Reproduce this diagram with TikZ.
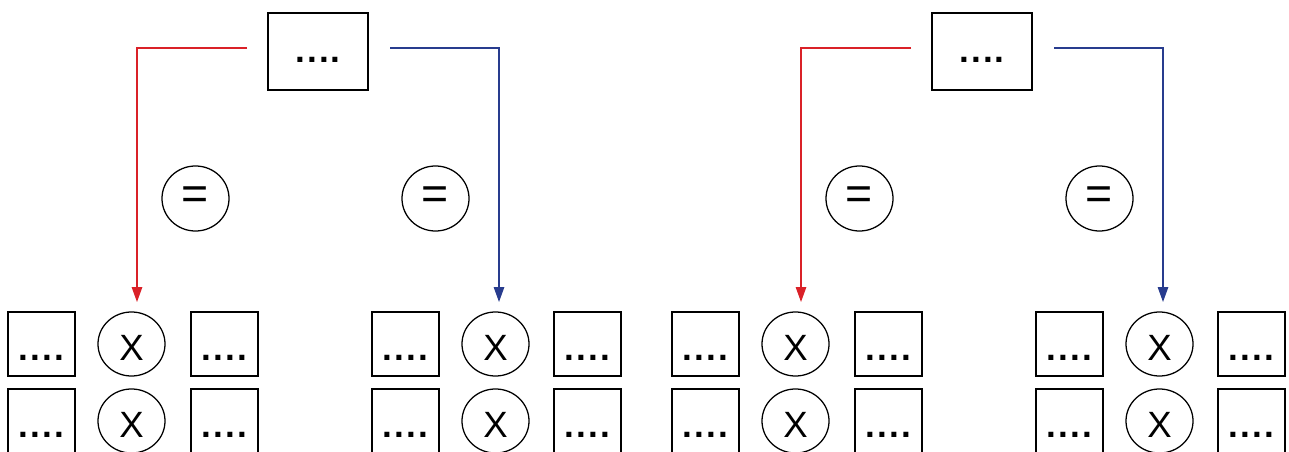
\documentclass[tikz,border=0pt]{standalone}
\usepackage{fontspec}
\setmainfont{Liberation Sans}
\newfontfamily\dotfont[LetterSpace=6]{Liberation Sans Bold}
\usetikzlibrary{arrows.meta, shapes.geometric}
\definecolor{linkred}{HTML}{DA2128}
\definecolor{linkblue}{HTML}{283C8E}
\tikzset{
  cell/.style={draw, line width=0.9pt, minimum width=1.675cm, minimum height=1.6cm,
    inner sep=0pt, text height=0.8cm, text depth=0pt, font=\fontsize{25}{30}\selectfont\dotfont},
  topbox/.style={cell, minimum width=2.5cm, minimum height=1.925cm, text height=0.575cm},
  xmark/.style={cell, ellipse, font=\fontsize{26}{30}\selectfont},
  eqmark/.style={draw, ellipse, line width=0.9pt, minimum width=1.675cm, minimum height=1.625cm,
    inner sep=0pt, font=\fontsize{33}{36}\selectfont},
  link/.style={line width=0.85pt, -{Triangle[length=0.37cm, width=0.26cm]}}
}

\begin{document}
\begin{tikzpicture}[x=0.025cm, y=-0.025cm]
  \useasboundingbox (0,0) rectangle (1289,452);
  \foreach \o/\g in {0/a, 664/b} {
    % Top box
    \node[topbox] (top\g) at (\o+318,51.5) {....};

    % Equality marks
    \node[eqmark] (eqL\g) at (\o+195.5,198.5) {=};
    \node[eqmark] (eqR\g) at (\o+435.5,198.5) {=};

    % Bottom rows
    \foreach \y/\r in {344/1, 421/2} {
      \node[cell]  (sqA\g\r) at (\o+41.5,\y)  {....};
      \node[xmark] (mulL\g\r) at (\o+131.5,\y) {X};
      \node[cell]  (sqB\g\r) at (\o+224.5,\y) {....};
      \node[cell]  (sqC\g\r) at (\o+405.5,\y) {....};
      \node[xmark] (mulR\g\r) at (\o+495.5,\y) {X};
      \node[cell]  (sqD\g\r) at (\o+587.5,\y) {....};
    }

    % Connectors
    \coordinate (redS\g) at (\o+247,48);
    \coordinate (redE\g) at (\o+137,302);
    \coordinate (blueS\g) at (\o+390,48);
    \coordinate (blueE\g) at (\o+499,302);
    \draw[link, linkred] (redS\g) -| (redE\g);
    \draw[link, linkblue] (blueS\g) -| (blueE\g);
  }
\end{tikzpicture}
\end{document}
